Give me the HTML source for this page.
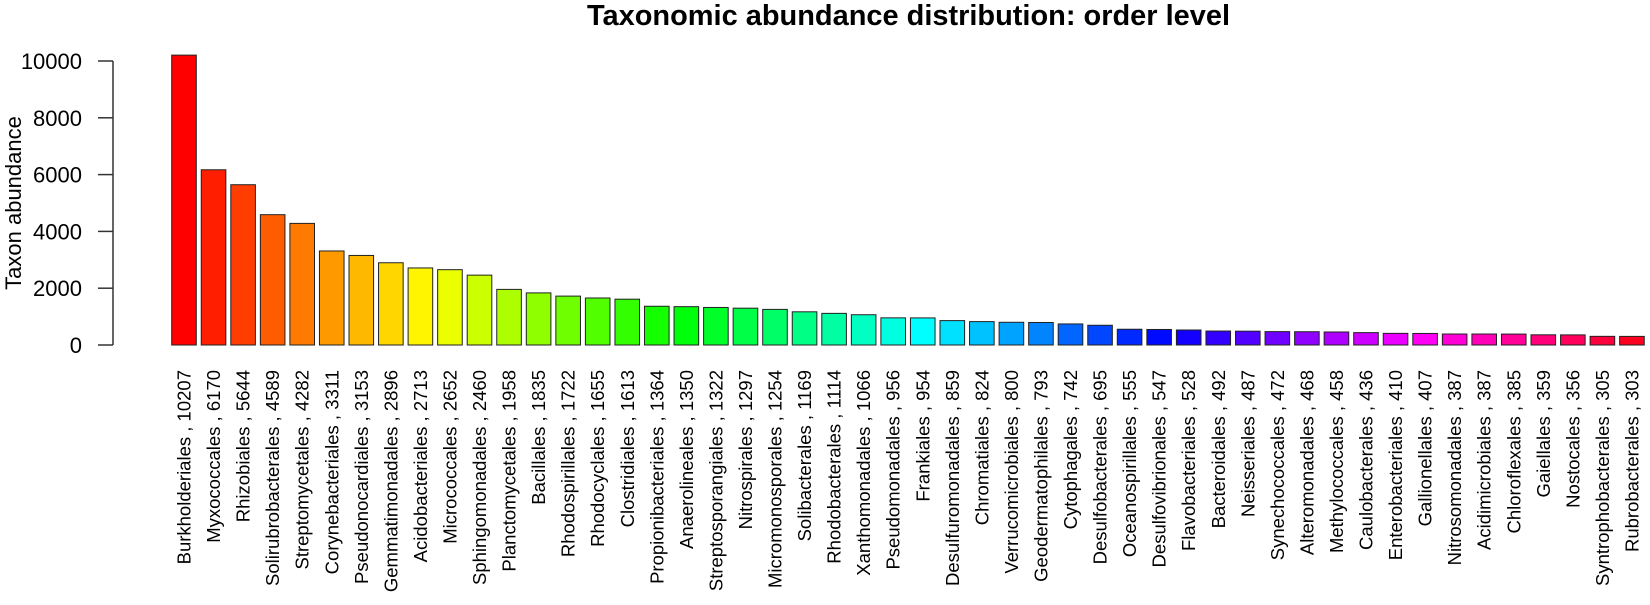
<!DOCTYPE html>
<html><head><meta charset="utf-8"><style>html,body{margin:0;padding:0;background:#fff}svg{display:block}</style></head>
<body>
<svg id="s" width="1650" height="605" xmlns="http://www.w3.org/2000/svg" font-family="Liberation Sans, Arial, sans-serif">
<text x="908.5" y="25" text-anchor="middle" font-weight="bold" font-size="29" textLength="643" lengthAdjust="spacingAndGlyphs">Taxonomic abundance distribution: order level</text>
<g stroke="#333" stroke-width="1.5" fill="none">
<line x1="113" y1="61" x2="113" y2="345"/>
<line x1="98" y1="61" x2="113" y2="61"/>
<line x1="98" y1="117.8" x2="113" y2="117.8"/>
<line x1="98" y1="174.6" x2="113" y2="174.6"/>
<line x1="98" y1="231.4" x2="113" y2="231.4"/>
<line x1="98" y1="288.2" x2="113" y2="288.2"/>
<line x1="98" y1="345" x2="113" y2="345"/>
</g>
<g font-size="22" text-anchor="end">
<text x="82" y="69">10000</text>
<text x="82" y="125.8">8000</text>
<text x="82" y="182.6">6000</text>
<text x="82" y="239.4">4000</text>
<text x="82" y="296.2">2000</text>
<text x="82" y="353">0</text>
</g>
<text transform="translate(21,203) rotate(-90)" text-anchor="middle" font-size="22">Taxon abundance</text>
<g id="bars"></g>
</svg>
<script>
var d=[["Burkholderiales",10207],["Myxococcales",6170],["Rhizobiales",5644],["Solirubrobacterales",4589],["Streptomycetales",4282],["Corynebacteriales",3311],["Pseudonocardiales",3153],["Gemmatimonadales",2896],["Acidobacteriales",2713],["Micrococcales",2652],["Sphingomonadales",2460],["Planctomycetales",1958],["Bacillales",1835],["Rhodospirillales",1722],["Rhodocyclales",1655],["Clostridiales",1613],["Propionibacteriales",1364],["Anaerolineales",1350],["Streptosporangiales",1322],["Nitrospirales",1297],["Micromonosporales",1254],["Solibacterales",1169],["Rhodobacterales",1114],["Xanthomonadales",1066],["Pseudomonadales",956],["Frankiales",954],["Desulfuromonadales",859],["Chromatiales",824],["Verrucomicrobiales",800],["Geodermatophilales",793],["Cytophagales",742],["Desulfobacterales",695],["Oceanospirillales",555],["Desulfovibrionales",547],["Flavobacteriales",528],["Bacteroidales",492],["Neisseriales",487],["Synechococcales",472],["Alteromonadales",468],["Methylococcales",458],["Caulobacterales",436],["Enterobacteriales",410],["Gallionellales",407],["Nitrosomonadales",387],["Acidimicrobiales",387],["Chloroflexales",385],["Gaiellales",359],["Nostocales",356],["Syntrophobacterales",305],["Rubrobacterales",303]];
var g=document.getElementById('bars'),h='';
for(var i=0;i<d.length;i++){var c=184+i*29.55,v=d[i][1],y=345-v*0.0284;
h+='<rect x="'+(c-12.3).toFixed(2)+'" y="'+y.toFixed(2)+'" width="24.6" height="'+(345-y).toFixed(2)+'" fill="hsl('+(i*360/50)+',100%,50%)" stroke="#222" stroke-width="1"/>';
h+='<text transform="translate('+(c+6.5).toFixed(2)+',370) rotate(-90)" text-anchor="end" font-size="18.5">'+d[i][0]+' , '+v+'</text>';}
g.innerHTML=h;
</script>
</body></html>
